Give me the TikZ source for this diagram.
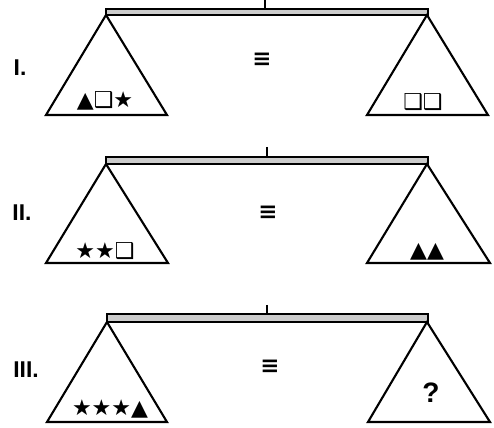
\documentclass[tikz,border=0pt]{standalone}
\usepackage{fontspec}
\setmainfont{Liberation Sans}
\newfontfamily\symfont{DejaVu Sans}
\usetikzlibrary{positioning}

\begin{document}
\begin{tikzpicture}[x=0.02cm, y=-0.02cm,
    beam/.style={draw=black, fill=gray!40, line width=1pt},
    pan/.style={draw=black, line width=1.2pt, line join=miter},
    pivot/.style={line width=0.8pt},
    rowlab/.style={font=\fontsize{13}{15}\selectfont\bfseries},
    eqv/.style={font=\symfont\bfseries\fontsize{13}{15}\selectfont},
    items/.style={font=\symfont\bfseries\fontsize{12.5}{15}\selectfont, inner sep=0pt},
    ask/.style={font=\fontsize{16}{18}\selectfont\bfseries}]
  \useasboundingbox (0,0) rectangle (494,428);
  % I.
  \draw[beam] (106,9) rectangle (428,15);
  \draw[pivot] (265,0) -- (265,9);
  \draw[pan] (106,15) -- (46,115) -- (167,115) -- cycle;
  \draw[pan] (427,15) -- (367,115) -- (488,115) -- cycle;
  \node[rowlab] (labI) at (20,68) {I.};
  \node[eqv] (eqI) at (262,60) {≡};
  \node[items] (leftI) at (105,101) {▲❑★};
  \node[items] (rightI) at (423,102) {❑❑};
  % II.
  \draw[beam] (106,157) rectangle (428,164);
  \draw[pivot] (267,147) -- (267,157);
  \draw[pan] (106,164) -- (46,263) -- (168,263) -- cycle;
  \draw[pan] (427,164) -- (367,263) -- (490,263) -- cycle;
  \node[rowlab] (labII) at (22,213) {II.};
  \node[eqv] (eqII) at (268,213) {≡};
  \node[items] (leftII) at (105,251) {★★❑};
  \node[items] (rightII) at (427,252) {▲▲};
  % III.
  \draw[beam] (107,314) rectangle (428,322);
  \draw[pivot] (267,305) -- (267,314);
  \draw[pan] (107,322) -- (47,422) -- (167,422) -- cycle;
  \draw[pan] (427,322) -- (368,422) -- (490,422) -- cycle;
  \node[rowlab] (labIII) at (26,370) {III.};
  \node[eqv] (eqIII) at (270,367) {≡};
  \node[items] (leftIII) at (110,409) {★★★▲};
  \node[ask] (rightIII) at (431,393) {?};
\end{tikzpicture}
\end{document}
